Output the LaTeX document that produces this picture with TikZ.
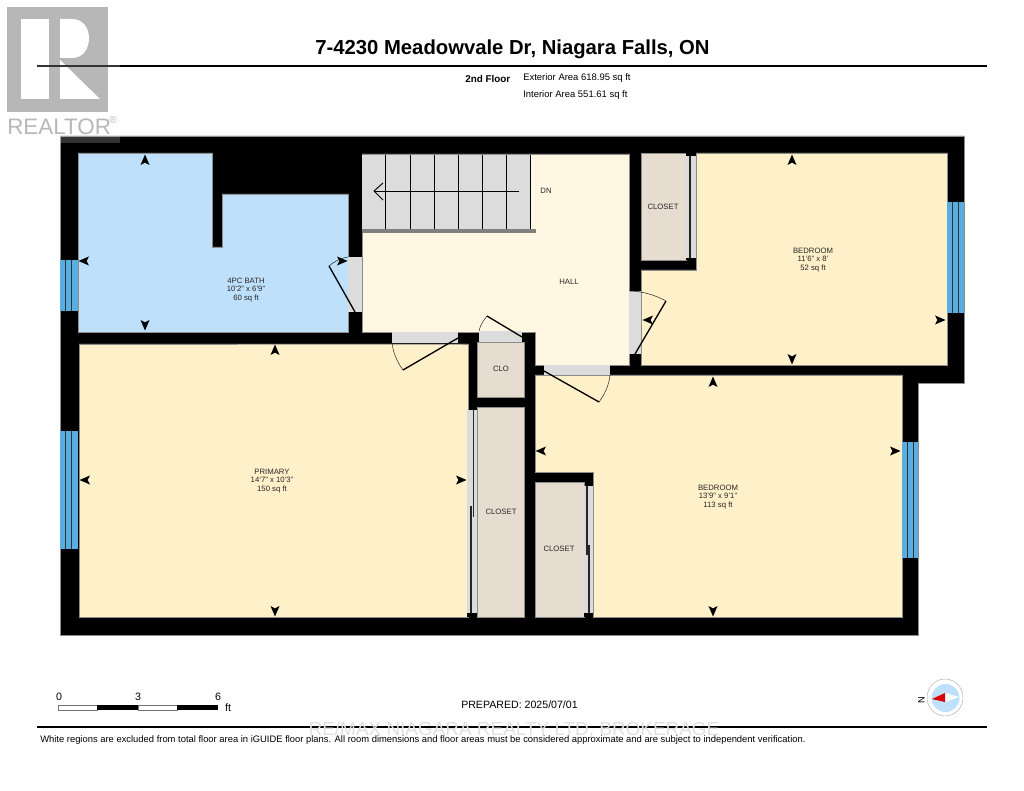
\documentclass[tikz,border=0pt]{standalone}
\usepackage{fontspec}
\setmainfont{Liberation Sans}
\definecolor{bathblue}{HTML}{BEE0FA}
\definecolor{roomyellow}{HTML}{FEF0C9}
\definecolor{hallyellow}{HTML}{FFF7E2}
\definecolor{closetbeige}{HTML}{E6DDD0}
\definecolor{doorgrey}{HTML}{DCDCDC}
\definecolor{glassblue}{HTML}{58AEDF}
\definecolor{logogrey}{HTML}{A6A6A6}
\tikzstyle{wall}=[fill=black]
\tikzstyle{room}=[draw=black!45, line width=0.3pt]
\tikzstyle{strip}=[fill=doorgrey]
\tikzstyle{leaf}=[line width=1pt, black]
\tikzstyle{swing}=[line width=0.3pt, black]
\tikzstyle{slider}=[line width=0.8pt, black!85]
\tikzstyle{tread}=[line width=0.7pt, black]
\tikzstyle{rulebar}=[line width=1.5pt, black]
\tikzstyle{roomlabel}=[align=center, font=\fontsize{5.8}{6.2}\selectfont, text=black!85, inner sep=0pt]
\tikzstyle{infolabel}=[anchor=west, font=\fontsize{7.1}{8}\selectfont, inner sep=0pt]
\newcommand{\wallmark}[3]{\fill[black, shift={(#1,#2)}, rotate=#3] (5.5,0) -- (-5,-4.5) -- (-2.6,0) -- (-5,4.5) -- cycle;}
\newcommand{\windowbar}[4]{
  \fill[glassblue] (#1,#2) rectangle (#3,#4);
  \draw[line width=0.5pt, black!80] (#1+5.8,#2) -- (#1+5.8,#4) (#1+11.2,#2) -- (#1+11.2,#4);
}
\begin{document}
\begin{tikzpicture}[x=0.75pt, y=-0.75pt]
  \useasboundingbox (0,0) rectangle (1024,791);
  \fill[logogrey] (7,7) rectangle (108,112);
  \fill[white] (21,19) rectangle (49,99);
  \fill[white] (60,19) -- (72,19) .. controls (83,19) and (89,28) .. (89,38)
    .. controls (89,49) and (83,58) .. (72,58) -- (60,58) -- cycle;
  \fill[white] (60,60) -- (60,99) -- (100,99) -- cycle;
  \node[anchor=west, inner sep=0pt, text=logogrey, font=\fontsize{16.8}{20}\selectfont] (realtor) at (7,127) {REALTOR};
  \node[anchor=center, inner sep=0pt, text=logogrey, font=\fontsize{7.5}{8}\selectfont] (realtormark) at (113,120) {®};

  \draw[rulebar] (37,66) -- (987,66);
  \draw[rulebar] (37,727) -- (987,727);
  \node[inner sep=0pt, font=\fontsize{15.2}{16}\bfseries\selectfont] (title) at (512.5,49.5) {7-4230 Meadowvale Dr, Niagara Falls, ON};
  \node[infolabel, font=\fontsize{7.4}{8}\bfseries\selectfont] (floorname) at (465,78.5) {2nd Floor};
  \node[infolabel] (exterior) at (523,78.5) {Exterior Area 618.95 sq ft};
  \node[infolabel] (interior) at (523,95.5) {Interior Area 551.61 sq ft};

  \fill[wall, draw=black!45, line width=0.3pt] (60,136) -- (964,136) -- (964,383) -- (918,383)
    -- (918,635) -- (60,635) -- cycle;

  \filldraw[room, fill=bathblue] (78,153) -- (212,153) -- (212,247) -- (222,247) -- (222,194)
    -- (348,194) -- (348,332) -- (78,332) -- cycle;
  \filldraw[room, fill=roomyellow] (79,344) -- (392,344) -- (458,344) -- (468,344) -- (468,617) -- (79,617) -- cycle;
  \filldraw[room, fill=hallyellow] (362,154) -- (629,154) -- (629,365) -- (535,365) -- (535,332) -- (362,332) -- cycle;
  \filldraw[room, fill=roomyellow] (696,153) -- (947,153) -- (947,365) -- (641,365) -- (641,270) -- (696,270) -- cycle;
  \filldraw[room, fill=roomyellow] (535,375) -- (902,375) -- (902,617) -- (593,617) -- (593,472) -- (535,472) -- cycle;

  \filldraw[room, fill=closetbeige] (641,153) rectangle (686,260);
  \filldraw[room, fill=closetbeige] (477,342) rectangle (524,397);
  \filldraw[room, fill=closetbeige] (477,407) rectangle (524,617);
  \filldraw[room, fill=closetbeige] (535,482) rectangle (584,617);

  \fill[doorgrey] (362,155) rectangle (531,229);
  \foreach \treadx in {385.7,410.3,434.7,458.7,482.7,506.7,530.7}
    \draw[tread] (\treadx,155) -- (\treadx,229);
  \fill[black!50] (362,229) rectangle (536,233);
  \draw[tread] (519,191) -- (374,191);
  \draw[tread] (383,183) -- (374,191) -- (383,200);

  \fill[strip] (348,257) rectangle (362,312);
  \fill[strip] (392,332) rectangle (458,343);
  \fill[strip] (479,331) rectangle (522,342);
  \fill[strip] (544,365) rectangle (610,375);
  \fill[strip] (629,291) rectangle (641,354);
  \fill[strip] (686,153) rectangle (696,258);
  \fill[strip] (467,410) rectangle (477,613);
  \fill[strip] (584,486) rectangle (593,613);

  \fill[wall] (686,153) rectangle (696,156);
  \fill[wall] (686,258) rectangle (696,260);
  \fill[wall] (467,613) rectangle (477,617);
  \fill[wall] (584,613) rectangle (593,617);

  \draw[leaf] (355,312) -- (329,266);
  \draw[swing] (329,266) .. controls (335,261) and (341,258) .. (348,257);
  \draw[leaf] (458,338) -- (403,370);
  \draw[swing] (403,370) .. controls (397,362) and (393,352) .. (392,343);
  \draw[leaf] (522,337) -- (487,316);
  \draw[swing] (487,316) .. controls (483,321) and (480,326) .. (479,331);
  \draw[leaf] (544,371) -- (599,402);
  \draw[swing] (599,402) .. controls (605,394) and (609,385) .. (610,375);
  \draw[leaf] (635,354) -- (666,301);
  \draw[swing] (666,301) .. controls (655,295) and (642,291) .. (629,291);

  \draw[slider] (690,156) -- (690,258);
  \fill[black!85] (689,204) rectangle (691,210);
  \draw[slider] (473.5,410) -- (473.5,517);
  \draw[slider] (471,506) -- (471,613);
  \draw[slider] (587,486) -- (587,555);
  \draw[slider] (589,545) -- (589,613);

  \windowbar{60}{260}{78}{311}
  \windowbar{60}{431}{78}{549}
  \windowbar{947}{202}{964}{313}
  \windowbar{902}{442}{918}{558}

  \foreach \markx/\marky/\markangle in {145/160/90, 145/325/-90, 84/261/180, 342/261/0,
      275/350/90, 275/611/-90, 85/480/180, 461/480/0,
      792/160/90, 792/359/-90, 648/320/180, 940/320/0,
      713/382/90, 713/611/-90, 541/451/180, 895/451/0}
    {\wallmark{\markx}{\marky}{\markangle}}

  \node[roomlabel] (bathlabel) at (246,290) {4PC BATH\\10'2" x 6'9"\\60 sq ft};
  \node[roomlabel] (primarylabel) at (272,481) {PRIMARY\\14'7" x 10'3"\\150 sq ft};
  \node[roomlabel] (halllabel) at (569,282) {HALL};
  \node[roomlabel] (dnlabel) at (546,191) {DN};
  \node[roomlabel] (upperbedlabel) at (813,260) {BEDROOM\\11'6" x 8'\\52 sq ft};
  \node[roomlabel] (lowerbedlabel) at (718,497) {BEDROOM\\13'9" x 9'1"\\113 sq ft};
  \node[roomlabel] (upperclosetlabel) at (663,207) {CLOSET};
  \node[roomlabel] (clolabel) at (501,369) {CLO};
  \node[roomlabel] (middleclosetlabel) at (501,512) {CLOSET};
  \node[roomlabel] (lowerclosetlabel) at (559,549) {CLOSET};

  \filldraw[fill=white, draw=black!55, line width=0.4pt] (58,705) rectangle (97,710);
  \fill[black] (97,705) rectangle (138,710);
  \filldraw[fill=white, draw=black!55, line width=0.4pt] (138,705) rectangle (177,710);
  \fill[black] (177,705) rectangle (218,710);
  \node[infolabel, anchor=center, font=\fontsize{8}{9}\selectfont] (scalezero) at (59,697) {0};
  \node[infolabel, anchor=center, font=\fontsize{8}{9}\selectfont] (scalethree) at (138,697) {3};
  \node[infolabel, anchor=center, font=\fontsize{8}{9}\selectfont] (scalesix) at (218,697) {6};
  \node[infolabel, anchor=center, font=\fontsize{8}{9}\selectfont] (scaleunit) at (228,708) {ft};

  \node[inner sep=0pt, text=black!12, font=\fontsize{14.2}{15}\selectfont] (watermark) at (514,730) {RE/MAX NIAGARA REALTY LTD, BROKERAGE};

  \node[infolabel, font=\fontsize{7.95}{9}\selectfont] (prepared) at (461,705) {PREPARED: 2025/07/01};
  \node[infolabel, font=\fontsize{7.05}{8}\selectfont] (disclaimer) at (40,740) {White regions are excluded from total floor area in iGUIDE floor plans. All room dimensions and floor areas must be considered approximate and are subject to independent verification.};

  \filldraw[draw=black!35, line width=0.3pt, fill=white] (945,697.5) ellipse (18 and 18.5);
  \fill[bathblue] (945.5,698) circle (14);
  \fill[white] (945,693) -- (959,697) -- (945,702) -- cycle;
  \fill[red!85!black] (932,699) -- (945,693) -- (945,702) -- cycle;
  \node[inner sep=0pt, rotate=90, font=\fontsize{7}{7}\selectfont] (northlabel) at (921.5,700) {N};

  \fill[white, opacity=0.2] (0,0) rectangle (120,143);
\end{tikzpicture}
\end{document}
